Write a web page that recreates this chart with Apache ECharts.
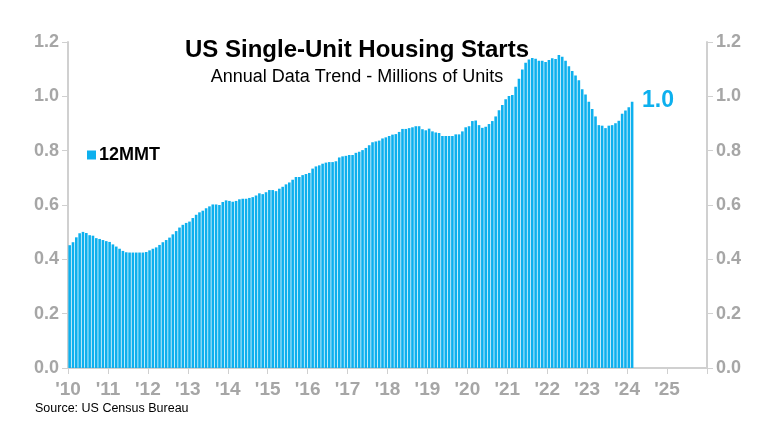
<!DOCTYPE html>
<html>
<head>
<meta charset="utf-8">
<script src="https://cdn.jsdelivr.net/npm/echarts@6/dist/echarts.min.js"></script>
<style>html,body{margin:0;padding:0;background:#fff}#c{width:780px;height:445px}</style>
</head>
<body>
<div id="c"></div>
<script>
// Data: monthly 12-month moving total, Jan 2010 onward (millions of units)
var startYear = 2010;
var values = [
  0.452,0.463,0.481,0.496,0.501,0.497,0.489,0.487,0.478,0.475,0.471,0.467,
  0.464,0.455,0.447,0.439,0.431,0.426,0.425,0.425,0.425,0.425,0.425,0.427,
  0.433,0.439,0.444,0.453,0.463,0.471,0.480,0.492,0.504,0.517,0.527,0.534,
  0.539,0.552,0.564,0.573,0.579,0.588,0.595,0.602,0.602,0.600,0.611,0.617,
  0.615,0.612,0.615,0.621,0.623,0.623,0.626,0.629,0.635,0.643,0.640,0.647,
  0.655,0.655,0.651,0.660,0.667,0.676,0.683,0.693,0.703,0.703,0.710,0.714,
  0.718,0.734,0.742,0.746,0.752,0.756,0.758,0.758,0.761,0.775,0.779,0.781,
  0.784,0.784,0.792,0.796,0.802,0.810,0.820,0.831,0.834,0.837,0.845,0.849,
  0.854,0.859,0.861,0.869,0.880,0.880,0.883,0.886,0.890,0.890,0.879,0.875,
  0.881,0.871,0.867,0.865,0.854,0.854,0.854,0.854,0.860,0.860,0.871,0.886,
  0.890,0.909,0.911,0.894,0.884,0.888,0.898,0.909,0.926,0.949,0.968,0.989,
  1.001,1.005,1.035,1.065,1.099,1.124,1.136,1.141,1.138,1.131,1.131,1.126,
  1.134,1.140,1.137,1.152,1.146,1.131,1.111,1.093,1.077,1.059,1.026,1.007,
  0.980,0.953,0.926,0.894,0.892,0.883,0.892,0.894,0.901,0.910,0.936,0.948,
  0.960,0.980
];
var tickYears = [2010,2011,2012,2013,2014,2015,2016,2017,2018,2019,2020,2021,2022,2023,2024,2025];
var tickLabels = ["'10","'11","'12","'13","'14","'15","'16","'17","'18","'19","'20","'21","'22","'23","'24","'25"];
var yTicks = [0.0,0.2,0.4,0.6,0.8,1.0,1.2];
var seriesName = '12MMT';
var lastLabel = '1.0';

var points = values.map(function(v,i){ return [startYear + i/12 + 1/24, v]; });

var gray = '#a6a6a6';
var lineGray = '#d0d0d0';
var blue = '#0db0ee';
var yAxisCommon = {
  type:'value', min:yTicks[0], max:yTicks[yTicks.length-1], interval:0.2,
  axisLine:{show:true, lineStyle:{color:lineGray, width:2}},
  axisTick:{show:true, length:6, lineStyle:{color:lineGray, width:1}},
  splitLine:{show:false},
  axisLabel:{color:gray, fontSize:18, fontWeight:'bold', margin:9, fontFamily:'Liberation Sans Narrow, Arial, sans-serif',
    formatter:function(v){return v.toFixed(1);}}
};

var chart = echarts.init(document.getElementById('c'), null, {renderer:'canvas'});
chart.setOption({
  animation:false,
  backgroundColor:'#fff',
  grid:{left:68, right:73, top:42, bottom:77},
  title:[
    {text:'US Single-Unit Housing Starts', left:352, top:33, textAlign:'center',
     textStyle:{fontSize:24, fontWeight:'bold', color:'#000', fontFamily:'Liberation Sans, Arial, sans-serif'}},
    {text:'Annual Data Trend - Millions of Units', left:352, top:63, textAlign:'center',
     textStyle:{fontSize:18, fontWeight:'normal', color:'#000', fontFamily:'Liberation Sans, Arial, sans-serif'}}
  ],
  legend:{show:true, left:82, top:141, itemWidth:9, itemHeight:9, icon:'rect', itemGap:4,
    textStyle:{fontSize:18, fontWeight:'bold', color:'#000', fontFamily:'Liberation Sans, Arial, sans-serif', padding:[0,0,0,-2]},
    data:[seriesName]},
  xAxis:{
    type:'value', min:tickYears[0], max:2026, interval:1,
    axisLine:{show:true, lineStyle:{color:lineGray, width:2}},
    axisTick:{show:true, length:6, lineStyle:{color:lineGray}},
    splitLine:{show:false},
    axisLabel:{color:gray, fontSize:19, fontWeight:'bold', margin:12, fontFamily:'Liberation Sans Narrow, Arial, sans-serif',
      formatter:function(v){var k=tickYears.indexOf(v); return k>=0?tickLabels[k]:'';}}
  },
  yAxis:[
    Object.assign({}, yAxisCommon, {position:'left'}),
    Object.assign({}, yAxisCommon, {position:'right'})
  ],
  series:[{
    name:seriesName, type:'bar', yAxisIndex:0, data:points, barWidth:2.6,
    itemStyle:{color:blue}, silent:true
  }],
  graphic:[
    {type:'text', left:642, top:89, style:{text:lastLabel, fill:blue, font:'bold 23px "Liberation Sans", Arial, sans-serif'}},
    {type:'text', left:35, top:402, style:{text:'Source: US Census Bureau', fill:'#000', font:'12.5px "Liberation Sans Narrow", "Liberation Sans", Arial, sans-serif'}}
  ]
});
</script>
</body>
</html>
